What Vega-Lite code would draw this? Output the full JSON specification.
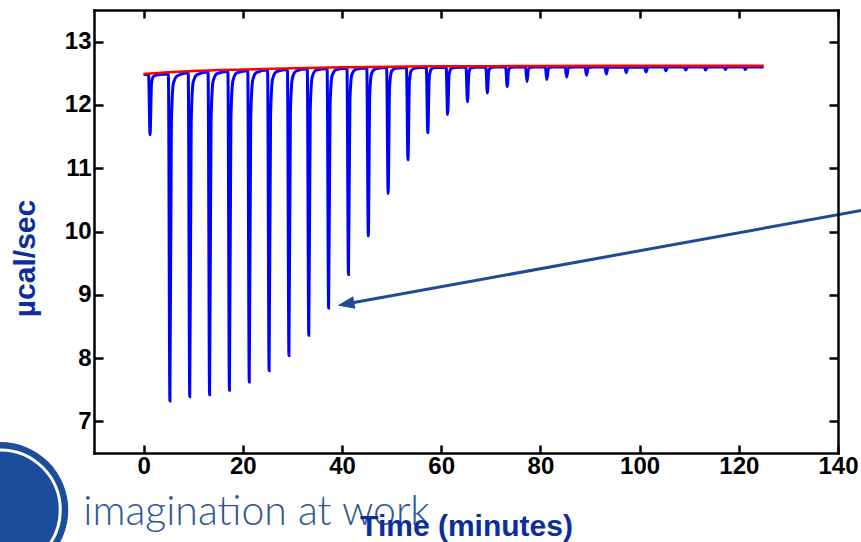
{
  "$schema": "https://vega.github.io/schema/vega-lite/v6.json",
  "width": 744,
  "height": 443,
  "autosize": {"type": "none"},
  "padding": {"left": 94, "top": 10, "right": 23, "bottom": 89},
  "background": "white",
  "config": {"view": {"stroke": null}},
  "datasets": {
    "blue": [
      {"t":0,"v":12.48},{"t":1.0,"v":12.48},{"t":1.3,"v":11.53},{"t":1.6,"v":12.34},{"t":2.0,"v":12.45},{"t":2.8,"v":12.475},
      {"t":5.0,"v":12.49},{"t":5.3,"v":7.32},{"t":5.6,"v":11.71},{"t":6.0,"v":12.34},{"t":6.8,"v":12.46},
      {"t":9.0,"v":12.51},{"t":9.3,"v":7.39},{"t":9.6,"v":11.74},{"t":10.0,"v":12.36},{"t":10.8,"v":12.48},
      {"t":13.0,"v":12.52},{"t":13.3,"v":7.42},{"t":13.6,"v":11.755},{"t":14.0,"v":12.367},{"t":14.8,"v":12.494},
      {"t":17.0,"v":12.53},{"t":17.3,"v":7.49},{"t":17.6,"v":11.774},{"t":18.0,"v":12.379},{"t":18.8,"v":12.505},
      {"t":21.0,"v":12.54},{"t":21.3,"v":7.62},{"t":21.6,"v":11.802},{"t":22.0,"v":12.392},{"t":22.8,"v":12.515},
      {"t":25.0,"v":12.55},{"t":25.3,"v":7.80},{"t":25.6,"v":11.837},{"t":26.0,"v":12.407},{"t":26.8,"v":12.526},
      {"t":29.0,"v":12.56},{"t":29.3,"v":8.04},{"t":29.6,"v":11.882},{"t":30.0,"v":12.424},{"t":30.8,"v":12.537},
      {"t":33.0,"v":12.57},{"t":33.3,"v":8.36},{"t":33.6,"v":11.938},{"t":34.0,"v":12.444},{"t":34.8,"v":12.549},
      {"t":37.0,"v":12.575},{"t":37.3,"v":8.79},{"t":37.6,"v":12.007},{"t":38.0,"v":12.461},{"t":38.8,"v":12.556},
      {"t":41.0,"v":12.58},{"t":41.3,"v":9.32},{"t":41.6,"v":12.091},{"t":42.0,"v":12.482},{"t":42.8,"v":12.564},
      {"t":45.0,"v":12.585},{"t":45.3,"v":9.93},{"t":45.6,"v":12.187},{"t":46.0,"v":12.505},{"t":46.8,"v":12.572},
      {"t":49.0,"v":12.59},{"t":49.3,"v":10.60},{"t":49.6,"v":12.291},{"t":50.0,"v":12.53},{"t":50.8,"v":12.58},
      {"t":53.0,"v":12.59},{"t":53.3,"v":11.13},{"t":53.6,"v":12.371},{"t":54.0,"v":12.546},{"t":54.8,"v":12.583},
      {"t":57.0,"v":12.595},{"t":57.3,"v":11.56},{"t":57.6,"v":12.44},{"t":58.0,"v":12.564},{"t":58.8,"v":12.59},
      {"t":61.0,"v":12.595},{"t":61.3,"v":11.85},{"t":61.6,"v":12.483},{"t":62.0,"v":12.573},{"t":62.8,"v":12.591},
      {"t":65.0,"v":12.6},{"t":65.3,"v":12.05},{"t":65.6,"v":12.518},{"t":66.0,"v":12.584},{"t":66.8,"v":12.597},
      {"t":69.0,"v":12.6},{"t":69.3,"v":12.19},{"t":69.6,"v":12.539},{"t":70.0,"v":12.588},{"t":70.8,"v":12.598},
      {"t":73.0,"v":12.6},{"t":73.3,"v":12.29},{"t":73.6,"v":12.554},{"t":74.0,"v":12.591},{"t":74.8,"v":12.598},
      {"t":77.0,"v":12.6},{"t":77.3,"v":12.37},{"t":77.6,"v":12.566},{"t":78.0,"v":12.593},{"t":78.8,"v":12.599},
      {"t":81.0,"v":12.6},{"t":81.3,"v":12.40},{"t":81.6,"v":12.57},{"t":82.0,"v":12.594},{"t":82.8,"v":12.599},
      {"t":85.0,"v":12.6},{"t":85.3,"v":12.44},{"t":85.6,"v":12.576},{"t":86.0,"v":12.595},{"t":86.8,"v":12.6},
      {"t":89.0,"v":12.6},{"t":89.3,"v":12.47},{"t":89.6,"v":12.58},{"t":90.0,"v":12.596},{"t":90.8,"v":12.6},
      {"t":93.0,"v":12.6},{"t":93.3,"v":12.49},{"t":93.6,"v":12.584},{"t":94.0,"v":12.597},
      {"t":97.0,"v":12.6},{"t":97.3,"v":12.51},{"t":97.6,"v":12.587},{"t":98.0,"v":12.597},
      {"t":101.0,"v":12.6},{"t":101.3,"v":12.52},{"t":101.6,"v":12.588},{"t":102.0,"v":12.598},
      {"t":105.0,"v":12.6},{"t":105.3,"v":12.54},{"t":105.6,"v":12.591},{"t":106.0,"v":12.598},
      {"t":109.0,"v":12.6},{"t":109.3,"v":12.55},{"t":109.6,"v":12.593},{"t":110.0,"v":12.599},
      {"t":113.0,"v":12.6},{"t":113.3,"v":12.55},{"t":113.6,"v":12.593},{"t":114.0,"v":12.599},
      {"t":117.0,"v":12.6},{"t":117.3,"v":12.56},{"t":117.6,"v":12.594},{"t":118.0,"v":12.6},
      {"t":121.0,"v":12.6},{"t":121.3,"v":12.56},{"t":121.6,"v":12.594},{"t":122.0,"v":12.6},
      {"t":125.0,"v":12.6}
    ],
    "red": [
      {"t":0,"v":12.49},{"t":5,"v":12.515},{"t":10,"v":12.535},{"t":20,"v":12.56},{"t":30,"v":12.58},
      {"t":40,"v":12.595},{"t":50,"v":12.605},{"t":60,"v":12.61},{"t":80,"v":12.615},{"t":100,"v":12.62},{"t":125,"v":12.62}
    ],
    "arrow": [{"t":147,"v":10.364},{"t":41,"v":8.857}],
    "arrowhead": [{"t":39.1,"v":8.83}]
  },
  "layer": [
    {
      "layer": [
        {
          "data": {"name": "blue"},
          "mark": {"type": "line", "color": "#0000ff", "strokeWidth": 3, "interpolate": "monotone", "clip": true},
          "encoding": {
            "x": {"field": "t", "type": "quantitative", "sort": null,
              "scale": {"domain": [-10, 140], "nice": false, "zero": false},
              "axis": {"orient": "bottom", "values": [0,20,40,60,80,100,120,140], "format": "d", "grid": false,
                "labelFlush": false, "labelFont": "Liberation Sans", "labelFontWeight": "bold", "labelFontSize": 24,
                "labelColor": "#000000", "labelPadding": 9, "tickSize": -8, "tickWidth": 2.5, "tickColor": "#000000",
                "domainColor": "#000000", "domainWidth": 2.5, "domainCap": "square", "zindex": 1,
                "title": "Time (minutes)", "titleFont": "Liberation Sans", "titleFontWeight": "bold", "titleFontSize": 30,
                "titleColor": "#0b2e9c", "titleBaseline": "alphabetic", "titleY": 82}},
            "y": {"field": "v", "type": "quantitative",
              "scale": {"domain": [6.5, 13.5], "nice": false, "zero": false},
              "axis": {"orient": "left", "values": [7,8,9,10,11,12,13], "format": "d", "grid": false,
                "labelFlush": false, "labelFont": "Liberation Sans", "labelFontWeight": "bold", "labelFontSize": 24,
                "labelColor": "#000000", "labelPadding": 12, "tickSize": -9, "tickWidth": 2.5, "tickColor": "#000000",
                "domainColor": "#000000", "domainWidth": 2.5, "domainCap": "square", "zindex": 1,
                "title": "µcal/sec", "titleFont": "Liberation Sans", "titleFontWeight": "bold", "titleFontSize": 30,
                "titleColor": "#0b2e9c", "titleAngle": -90, "titleBaseline": "alphabetic", "titleAlign": "center",
                "titleX": -60, "titleY": 248}}
          }
        },
        {
          "data": {"name": "red"},
          "mark": {"type": "line", "color": "#ff0000", "strokeWidth": 2.5, "interpolate": "monotone"},
          "encoding": {
            "x": {"field": "t", "type": "quantitative"},
            "y": {"field": "v", "type": "quantitative"}
          }
        },
        {
          "data": {"name": "arrow"},
          "mark": {"type": "line", "color": "#1f4a97", "strokeWidth": 3, "clip": false},
          "encoding": {
            "x": {"field": "t", "type": "quantitative"},
            "y": {"field": "v", "type": "quantitative"}
          }
        },
        {
          "data": {"name": "arrowhead"},
          "mark": {"type": "point", "shape": "M0,0L2,-0.75L2,0.75Z", "size": 289, "angle": 350,
            "filled": true, "fill": "#1f4a97", "strokeWidth": 0, "opacity": 1, "clip": false},
          "encoding": {
            "x": {"field": "t", "type": "quantitative"},
            "y": {"field": "v", "type": "quantitative"}
          }
        },
        {
          "data": {"values": [{}]},
          "mark": {"type": "point", "shape": "circle", "size": 18500, "filled": true, "fill": "#1c4d9c", "opacity": 1, "strokeWidth": 0, "clip": false},
          "encoding": {"x": {"datum": -28.9}, "y": {"datum": 5.6}}
        },
        {
          "data": {"values": [{}]},
          "mark": {"type": "point", "shape": "circle", "size": 14400, "filled": false, "stroke": "#ffffff", "strokeWidth": 3, "opacity": 1, "clip": false},
          "encoding": {"x": {"datum": -28.9}, "y": {"datum": 5.6}}
        },
        {
          "data": {"values": [{"label": "imagination at work"}]},
          "mark": {"type": "text", "font": "Lato", "fontWeight": 300, "fontSize": 41, "color": "#2b5795",
            "align": "left", "baseline": "alphabetic", "clip": false},
          "encoding": {"x": {"datum": -12.15}, "y": {"datum": 5.37}, "text": {"field": "label"}}
        }
      ]
    },
    {
      "data": {"values": [{"t": 0, "v": 7}]},
      "mark": {"type": "point", "opacity": 0},
      "encoding": {
        "x": {"field": "t", "type": "quantitative",
          "scale": {"domain": [-10, 140], "nice": false, "zero": false},
          "axis": {"orient": "top", "values": [0,20,40,60,80,100,120,140], "labels": false, "title": null, "grid": false,
            "tickSize": -8, "tickWidth": 2.5, "tickColor": "#000000", "domainColor": "#000000", "domainWidth": 2.5, "domainCap": "square", "zindex": 1}},
        "y": {"field": "v", "type": "quantitative",
          "scale": {"domain": [6.5, 13.5], "nice": false, "zero": false},
          "axis": {"orient": "right", "values": [7,8,9,10,11,12,13], "labels": false, "title": null, "grid": false,
            "tickSize": -9, "tickWidth": 2.5, "tickColor": "#000000", "domainColor": "#000000", "domainWidth": 2.5, "domainCap": "square", "zindex": 1}}
      }
    }
  ],
  "resolve": {"axis": {"x": "independent", "y": "independent"}}
}
